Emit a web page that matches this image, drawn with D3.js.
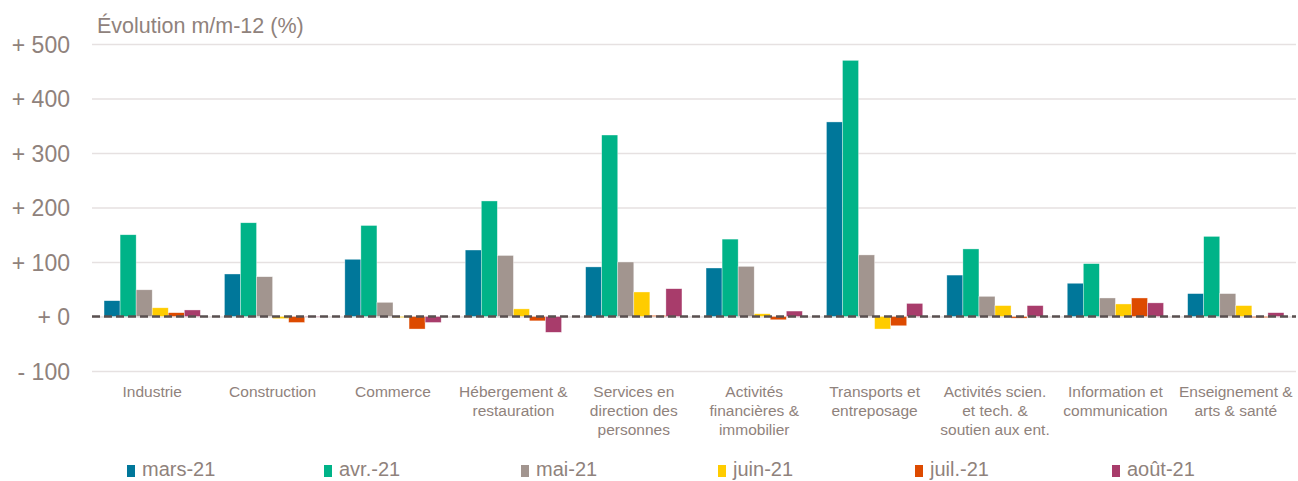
<!DOCTYPE html>
<html><head><meta charset="utf-8">
<script src="https://cdn.jsdelivr.net/npm/d3@7/dist/d3.min.js"></script>
<style>body{margin:0;background:#fff;} svg{display:block;font-family:"Liberation Sans",Arial,sans-serif;}</style>
</head><body>
<svg id="c" width="1298" height="481"></svg>
<script>
const categories = [
  ["Industrie"],
  ["Construction"],
  ["Commerce"],
  ["Hébergement &","restauration"],
  ["Services en","direction des","personnes"],
  ["Activités","financières &","immobilier"],
  ["Transports et","entreposage"],
  ["Activités scien.","et tech. &","soutien aux ent."],
  ["Information et","communication"],
  ["Enseignement &","arts & santé"]
];
const seriesNames = ["mars-21","avr.-21","mai-21","juin-21","juil.-21","août-21"];
const seriesColors = ["#00779A","#00B388","#A2958F","#FFCC00","#DD4A00","#A83C6B"];
const mars21 = [29, 78, 105, 122, 91, 89, 357, 76, 61, 42];
const avr21  = [150, 172, 167, 212, 333, 142, 470, 124, 97, 147];
const mai21  = [49, 73, 26, 112, 100, 92, 113, 37, 34, 42];
const juin21 = [16, -4, -2, 14, 45, 5, -23, 20, 23, 20];
const juil21 = [7, -11, -23, -8, 2, -6, -17, -3, 34, -2];
const aout21 = [12, -1, -11, -29, 51, 10, 24, 20, 25, 7];
const yTicks = [-100, 0, 100, 200, 300, 400, 500];
const title = "Évolution m/m-12 (%)";

const series = [mars21, avr21, mai21, juin21, juil21, aout21];
const svg = d3.select("#c");
const textColor = "#8f827c";
const left = 92, right = 1296;
const y = d3.scaleLinear().domain([-100, 500]).range([371, 44]);
const x0 = d3.scaleBand().domain(d3.range(categories.length)).range([left, right]).padding(0);
const bw = x0.bandwidth();
const x1 = d3.scaleBand().domain(d3.range(series.length)).range([bw*0.1, bw*0.9]).padding(0);

// gridlines
const yAxis = d3.axisLeft(y).tickValues(yTicks).tickSize(-(right-left)).tickFormat(d => (d < 0 ? "- " + Math.abs(d) : "+ " + d));
const ga = svg.append("g").attr("transform", `translate(${left},0)`).call(yAxis);
ga.select(".domain").remove();
ga.selectAll(".tick line").attr("stroke", "#e6e1e1").attr("stroke-width", 1.6);
ga.selectAll(".tick text").attr("x", -22).attr("fill", textColor).attr("font-size", 23).attr("dy", "0.36em");

// bars
const groups = svg.append("g").selectAll("g").data(categories).join("g")
  .attr("transform", (d,i) => `translate(${x0(i)},0)`);
groups.selectAll("rect").data((d,i) => series.map((s,j) => ({j, v: s[i]}))).join("rect")
  .attr("x", d => x1(d.j))
  .attr("width", x1.bandwidth())
  .attr("y", d => y(Math.max(0, d.v)))
  .attr("height", d => Math.abs(y(d.v) - y(0)))
  .attr("fill", d => seriesColors[d.j])
  .attr("stroke", "rgba(255,255,255,0.6)").attr("stroke-width", 0.6);

// zero line
svg.append("line").attr("x1", left).attr("x2", right).attr("y1", y(0)).attr("y2", y(0))
  .attr("stroke", "#595050").attr("stroke-width", 2.6).attr("stroke-dasharray", "8 4");

// category labels
const xl = svg.append("g");
categories.forEach((lines, i) => {
  const t = xl.append("text").attr("text-anchor", "middle").attr("fill", textColor).attr("font-size", 15.5)
    .attr("x", x0(i) + bw/2).attr("y", 397);
  lines.forEach((l, k) => t.append("tspan").attr("x", x0(i) + bw/2).attr("dy", k === 0 ? 0 : 19).text(l));
});

// title
svg.append("text").attr("x", 97).attr("y", 33).attr("fill", textColor).attr("font-size", 21.5).text(title);

// legend
const lx = d3.scalePoint().domain(d3.range(seriesNames.length)).range([127, 1112]);
const lg = svg.append("g").selectAll("g").data(seriesNames).join("g")
  .attr("transform", (d,i) => `translate(${lx(i)},0)`);
lg.append("rect").attr("x", 0).attr("y", 465).attr("width", 8).attr("height", 12).attr("fill", (d,i) => seriesColors[i]);
lg.append("text").attr("x", 15).attr("y", 476).attr("fill", textColor).attr("font-size", 20).text(d => d);
</script>
</body></html>
